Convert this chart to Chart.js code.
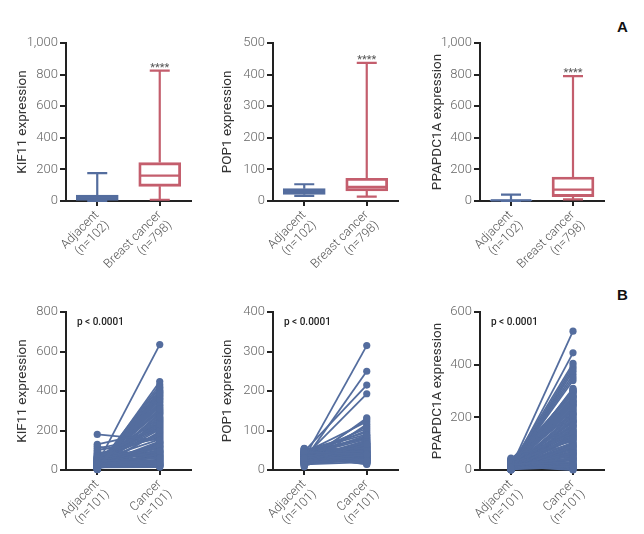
<!DOCTYPE html>
<html>
<head>
<meta charset="utf-8">
<script src="https://cdn.jsdelivr.net/npm/chart.js@4.4.1/dist/chart.umd.min.js"></script>
<style>
  body { margin: 0; background: #fff; width: 644px; height: 534px; position: relative; overflow: hidden; }
  canvas { position: absolute; }
  .tag { position: absolute; font: bold 15px "Liberation Sans", Arial, sans-serif; color: #111; }
</style>
</head>
<body>
<canvas id="kifBox"></canvas>
<canvas id="popBox"></canvas>
<canvas id="ppBox"></canvas>
<canvas id="kifPair"></canvas>
<canvas id="popPair"></canvas>
<canvas id="ppPair"></canvas>
<div class="tag" style="left:617px;top:18px">A</div>
<div class="tag" style="left:617px;top:286px">B</div>
<script>
// ---- data ----
const boxLabels = [["Adjacent", "(n=102)"], ["Breast cancer", "(n=798)"]];
const pairLabels = [["Adjacent", "(n=101)"], ["Cancer", "(n=101)"]];

// box stats: [min, q1, median, q3, max] for adjacent, breast cancer
const kifStats = [[0, 4, 15, 38, 177], [8, 93, 160, 243, 825]];
const popStats = [[16, 21, 29, 39, 53], [14, 32, 45, 72, 437]];
const ppStats = [[0, 1, 4, 8, 40], [10, 28, 72, 152, 790]];

const kifTicks = [0, 1000, 200];
const popTicks = [0, 500, 100];
const ppTicks = [0, 1000, 200];

// paired samples (adjacent -> cancer)
const kifAdj = [30, 180, 12, 45, 8, 60, 22, 15, 130, 35,
  5, 18, 70, 25, 40, 10, 55, 28, 3, 120,
  48, 14, 33, 20, 65, 9, 38, 26, 52, 16,
  7, 42, 100, 24, 11, 58, 31, 19, 4, 75,
  36, 13, 46, 27, 6, 85, 21, 34, 17, 50,
  29, 2, 62, 39, 23, 110, 15, 44, 8, 32,
  18, 56, 26, 12, 41, 92, 20, 5, 37, 28,
  68, 14, 47, 10, 30, 24, 80, 16, 43, 22,
  6, 35, 53, 19, 27, 9, 40, 13, 64, 25,
  33, 11, 49, 21, 4, 38, 17, 57, 29, 15, 45];
const kifCan = [635, 150, 420, 60, 385, 230, 35, 310, 200, 95,
  448, 25, 175, 270, 40, 360, 120, 80, 290, 55,
  210, 395, 30, 140, 250, 70, 330, 18, 185, 105,
  405, 45, 160, 300, 88, 220, 20, 345, 130, 65,
  240, 372, 110, 28, 195, 75, 280, 50, 415, 155,
  38, 260, 92, 318, 22, 170, 355, 62, 125, 205,
  432, 85, 145, 32, 265, 58, 190, 378, 100, 42,
  225, 15, 305, 135, 72, 245, 165, 390, 48, 115,
  285, 26, 180, 340, 68, 255, 98, 24, 215, 365,
  52, 138, 295, 78, 400, 35, 235, 118, 325, 18, 90];

const popAdj = [30, 45, 22, 38, 18, 52, 27, 35, 14, 42,
  25, 48, 20, 33, 16, 40, 28, 55, 24, 36,
  19, 44, 31, 12, 39, 26, 50, 21, 34, 29,
  47, 17, 37, 23, 43, 8, 32, 41, 26, 53,
  20, 35, 28, 46, 15, 38, 24, 30, 49, 22,
  33, 18, 42, 27, 36, 13, 45, 25, 31, 40,
  21, 51, 29, 34, 17, 39, 23, 44, 28, 37,
  16, 32, 48, 26, 41, 19, 35, 30, 54, 24,
  43, 22, 38, 10, 33, 27, 46, 20, 36, 29,
  25, 40, 31, 18, 47, 34, 21, 39, 28, 42, 32];
const popCan = [315, 40, 65, 25, 132, 55, 30, 88, 20, 48,
  250, 35, 72, 18, 60, 105, 28, 45, 38, 15,
  52, 122, 33, 68, 22, 42, 95, 27, 58, 36,
  215, 24, 78, 44, 31, 116, 50, 19, 62, 39,
  29, 85, 47, 21, 70, 34, 128, 26, 54, 41,
  193, 37, 63, 23, 100, 46, 32, 75, 17, 57,
  43, 28, 110, 35, 66, 20, 50, 82, 30, 38,
  60, 25, 90, 45, 33, 56, 14, 74, 40, 27,
  36, 52, 22, 64, 31, 48, 80, 26, 44, 34,
  58, 19, 42, 68, 29, 38, 24, 53, 32, 46, 28];

const ppAdj = [10, 25, 4, 18, 42, 7, 14, 2, 30, 12,
  20, 5, 35, 9, 16, 1, 27, 11, 45, 6,
  15, 22, 3, 13, 38, 8, 19, 0, 24, 10,
  6, 32, 12, 17, 4, 28, 9, 21, 2, 14,
  26, 7, 11, 40, 5, 16, 23, 3, 18, 8,
  13, 1, 29, 10, 20, 6, 34, 15, 4, 12,
  9, 24, 2, 17, 11, 36, 7, 19, 14, 5,
  22, 3, 13, 8, 27, 10, 0, 16, 31, 6,
  12, 18, 4, 25, 9, 14, 2, 21, 7, 11,
  15, 5, 33, 8, 19, 3, 13, 26, 10, 6, 17];
const ppCan = [527, 120, 280, 45, 210, 15, 350, 90, 170, 260,
  30, 445, 140, 65, 300, 195, 8, 240, 110, 375,
  55, 230, 160, 20, 285, 75, 405, 130, 5, 190,
  250, 100, 362, 40, 175, 270, 60, 150, 12, 305,
  215, 85, 395, 35, 125, 290, 180, 25, 245, 70,
  145, 310, 50, 200, 10, 385, 115, 265, 95, 165,
  28, 278, 135, 220, 62, 295, 80, 185, 3, 235,
  155, 42, 255, 105, 18, 205, 275, 68, 225, 118,
  340, 88, 188, 22, 298, 148, 58, 260, 38, 128,
  0, 212, 78, 168, 302, 48, 138, 248, 15, 98, 182];

const kifPairTicks = [0, 800, 200];
const popPairTicks = [0, 400, 100];
const ppPairTicks = [0, 600, 200];

// ---- styling ----
const BLUE = "#546d9e";
const BLUE_FILL = "rgba(84,109,158,0.9)";
const RED = "#c45e6d";
const FONT = "Roboto, 'Liberation Sans', sans-serif";
Chart.defaults.font.family = FONT;
Chart.defaults.animation = false;

// draws whiskers, caps, median and the significance stars
const boxWhiskers = {
  id: "boxWhiskers",
  afterDatasetsDraw(chart, args, opts) {
    if (!opts.stats) return;
    const { ctx, scales: { x, y } } = chart;
    opts.stats.forEach((s, i) => {
      const cx = x.getPixelForValue(i);
      const [mn, q1, md, q3, mx] = s.map(v => y.getPixelForValue(v));
      ctx.save();
      ctx.strokeStyle = opts.colors[i];
      ctx.lineWidth = 2.2;
      ctx.beginPath();
      ctx.moveTo(cx, q3); ctx.lineTo(cx, mx);
      ctx.moveTo(cx, q1); ctx.lineTo(cx, mn);
      ctx.moveTo(cx - 10, mx); ctx.lineTo(cx + 10, mx);
      ctx.moveTo(cx - 10, mn); ctx.lineTo(cx + 10, mn);
      ctx.moveTo(cx - 20, md); ctx.lineTo(cx + 20, md);
      ctx.stroke();
      if (opts.stars && opts.stars[i]) {
        ctx.fillStyle = "#555";
        ctx.font = "11px " + FONT;
        ctx.textAlign = "center";
        ctx.textBaseline = "alphabetic";
        ctx.fillText(opts.stars[i], cx, mx);
      }
      ctx.restore();
    });
  }
};

const cornerNote = {
  id: "cornerNote",
  afterDraw(chart, args, opts) {
    if (!opts.text) return;
    const { ctx, chartArea } = chart;
    ctx.save();
    ctx.fillStyle = "#222";
    ctx.font = "500 10px " + FONT;
    ctx.textBaseline = "middle";
    ctx.fillText(opts.text, chartArea.left + 11, chartArea.top + 10);
    ctx.restore();
  }
};

function placeCanvas(p) {
  const cv = document.getElementById(p.id);
  cv.width = p.w; cv.height = p.h;
  cv.style.left = p.left + "px"; cv.style.top = p.top + "px";
  cv.style.width = p.w + "px"; cv.style.height = p.h + "px";
  return cv;
}

function axes(p, ticks, title, labels) {
  return {
    x: {
      type: "category",
      labels,
      offset: true,
      afterFit: s => { s.height = p.top + p.h - p.zeroY; },
      grid: { offset: false, drawOnChartArea: false, tickLength: 5, color: "#222", lineWidth: 2 },
      border: { color: "#222", width: 2 },
      ticks: { autoSkip: false, minRotation: 45, maxRotation: 45, color: "#555", padding: 2,
        font: { size: 12.5, weight: 300, lineHeight: 1.15 } }
    },
    y: {
      min: ticks[0], max: ticks[1],
      afterFit: s => { s.width = p.axisX - p.left; },
      grid: { drawOnChartArea: false, tickLength: 6, color: "#222", lineWidth: 2 },
      border: { color: "#222", width: 2 },
      ticks: { stepSize: ticks[2], color: "#666", padding: 2, font: { size: 13, weight: 300 } },
      title: { display: true, text: title, color: "#333", font: { size: 13.5 }, padding: { top: 15, bottom: 0 } }
    }
  };
}

function layoutFor(p) {
  return { padding: { top: p.topY - p.top, right: p.left + p.w - p.right, left: 0, bottom: 0 } };
}

function boxChart(p, stats, ticks, title) {
  const cv = placeCanvas(p);
  new Chart(cv, {
    type: "bar",
    data: {
      labels: boxLabels,
      datasets: [{
        data: stats.map(s => [s[1], s[3]]),
        backgroundColor: [BLUE_FILL, "rgba(0,0,0,0)"],
        borderColor: [BLUE, RED],
        borderWidth: 2.2,
        borderSkipped: false,
        barThickness: 42
      }]
    },
    options: {
      responsive: false,
      events: [],
      layout: layoutFor(p),
      scales: axes(p, ticks, title, boxLabels),
      plugins: {
        legend: { display: false },
        tooltip: { enabled: false },
        boxWhiskers: { stats, colors: [BLUE, RED], stars: ["", "****"] }
      }
    },
    plugins: [boxWhiskers]
  });
}

function pairChart(p, adj, can, ticks, title) {
  const cv = placeCanvas(p);
  new Chart(cv, {
    type: "line",
    data: {
      labels: pairLabels,
      datasets: adj.map((a, i) => ({
        data: [a, can[i]],
        borderColor: BLUE,
        backgroundColor: BLUE,
        borderWidth: 1.8,
        pointRadius: 3.6,
        pointBorderWidth: 0,
        clip: false
      }))
    },
    options: {
      responsive: false,
      events: [],
      layout: layoutFor(p),
      scales: axes(p, ticks, title, pairLabels),
      plugins: {
        legend: { display: false },
        tooltip: { enabled: false },
        cornerNote: { text: "p < 0.0001" }
      }
    },
    plugins: [cornerNote]
  });
}

const topRow = { top: 20, h: 250, topY: 43, zeroY: 201 };
const botRow = { top: 280, h: 254, topY: 312, zeroY: 470 };

boxChart({ id: "kifBox", left: 0, w: 205, axisX: 66, right: 191, ...topRow }, kifStats, kifTicks, "KIF11 expression");
boxChart({ id: "popBox", left: 205, w: 205, axisX: 273, right: 398, ...topRow }, popStats, popTicks, "POP1 expression");
boxChart({ id: "ppBox", left: 415, w: 200, axisX: 480, right: 604, ...topRow }, ppStats, ppTicks, "PPAPDC1A expression");

pairChart({ id: "kifPair", left: 0, w: 205, axisX: 66, right: 191, ...botRow }, kifAdj, kifCan, kifPairTicks, "KIF11 expression");
pairChart({ id: "popPair", left: 205, w: 205, axisX: 273, right: 398, ...botRow }, popAdj, popCan, popPairTicks, "POP1 expression");
pairChart({ id: "ppPair", left: 415, w: 200, axisX: 480, right: 604, ...botRow }, ppAdj, ppCan, ppPairTicks, "PPAPDC1A expression");
</script>
</body>
</html>
